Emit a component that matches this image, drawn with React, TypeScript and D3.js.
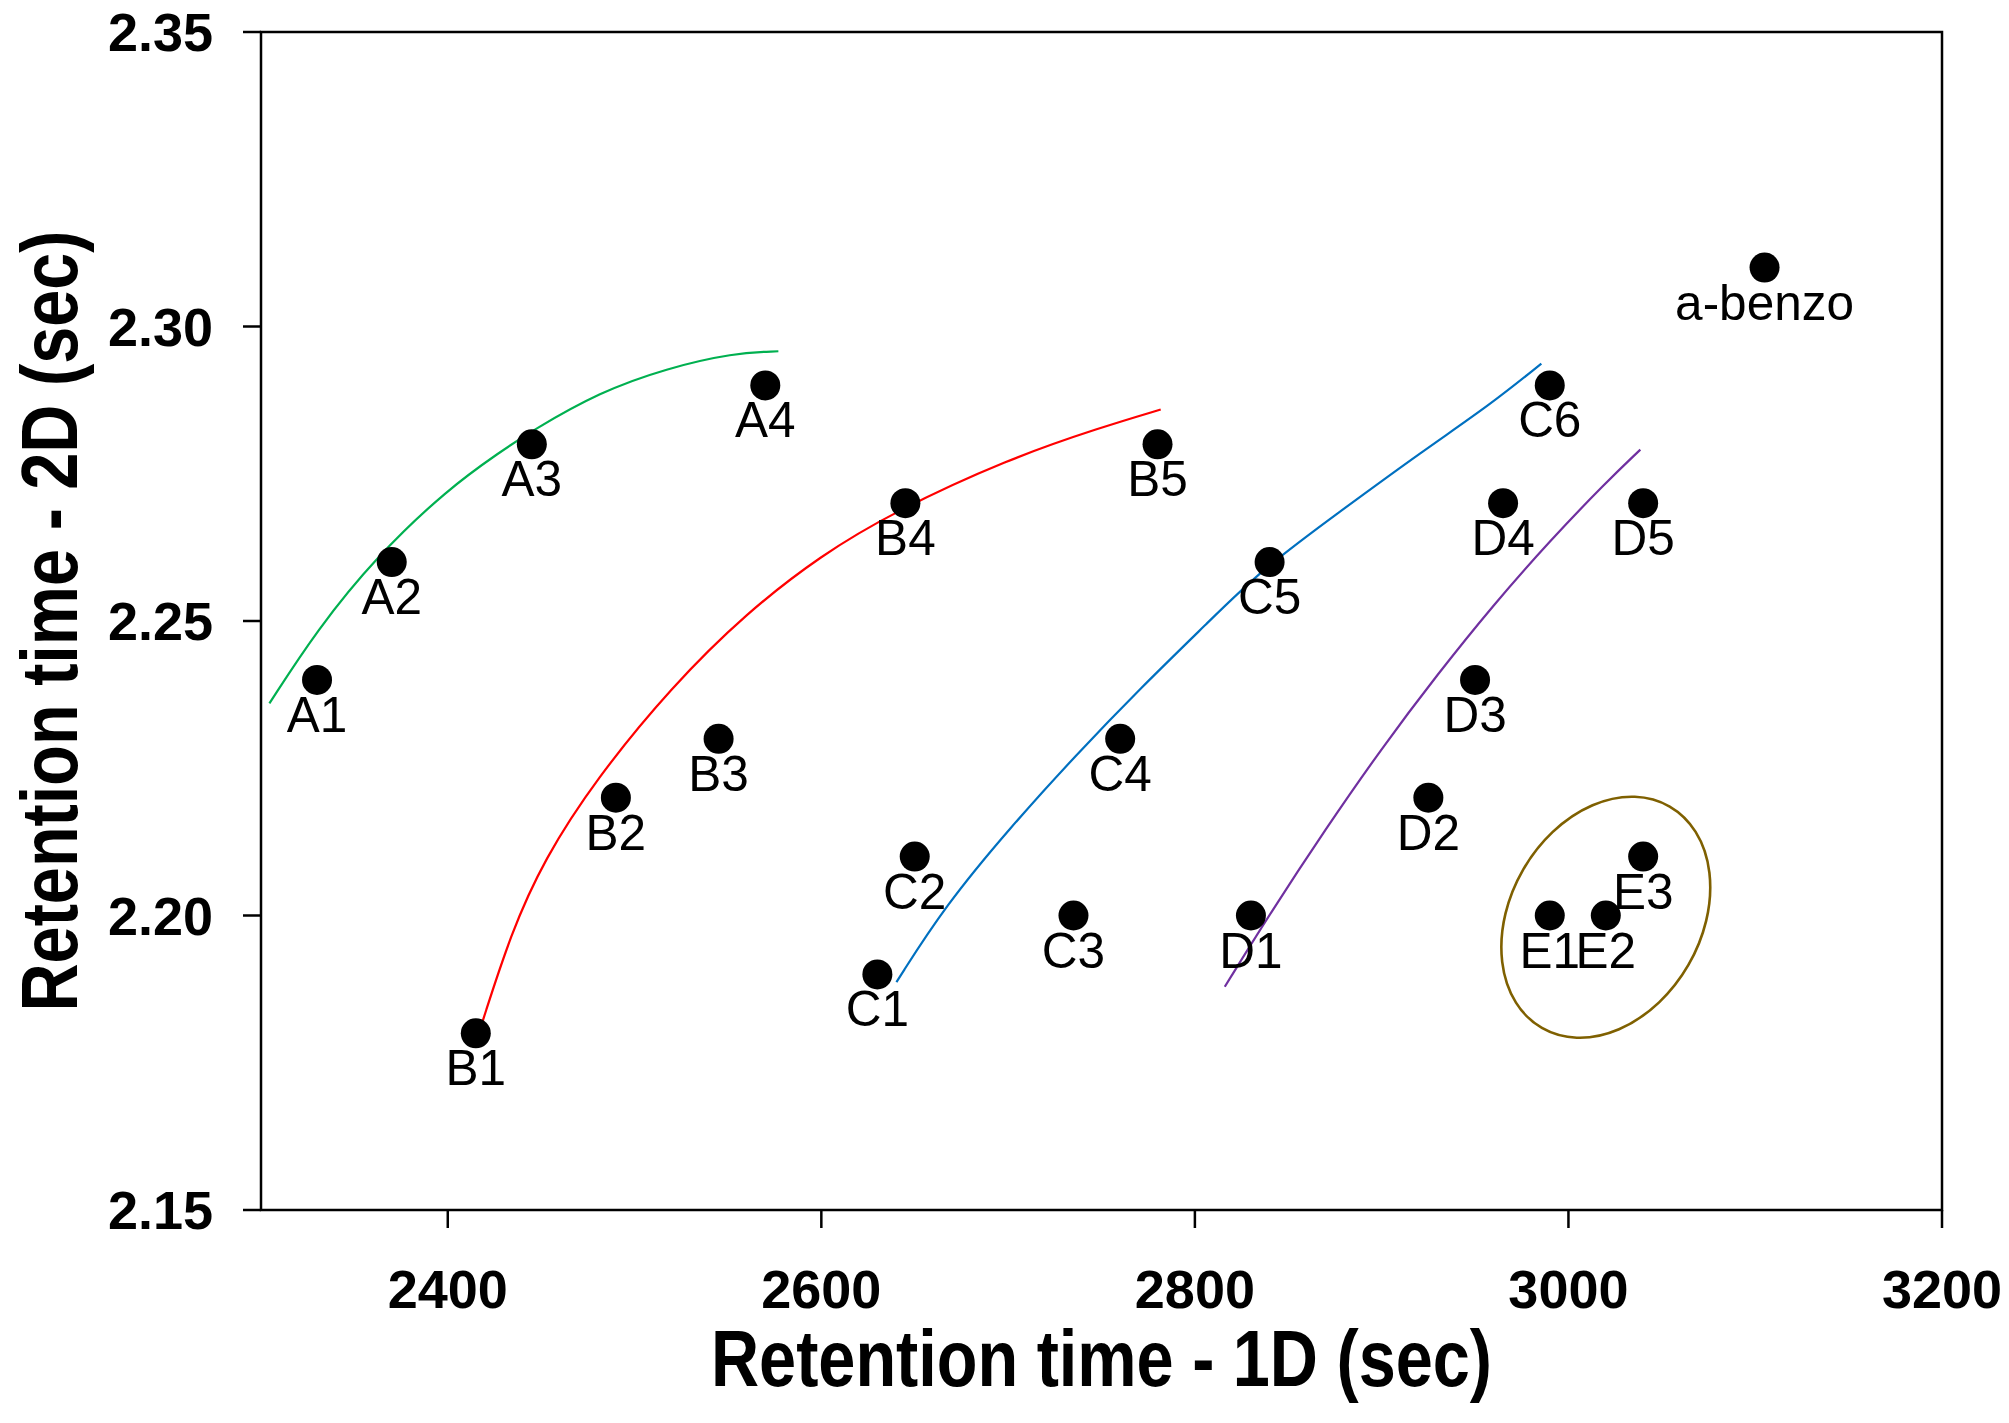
import React from 'react';
import * as d3 from 'd3';

// ---- data ----
const compoundNames = ['A1','A2','A3','A4','B1','B2','B3','B4','B5','C1','C2','C3','C4','C5','C6','D1','D2','D3','D4','D5','E1','E2','E3','a-benzo'];
const rt1D = [2330,2370,2445,2570,2415,2490,2545,2645,2780,2630,2650,2735,2760,2840,2990,2830,2925,2950,2965,3040,2990,3020,3040,3105];
const rt2D = [2.24,2.26,2.28,2.29,2.18,2.22,2.23,2.27,2.28,2.19,2.21,2.20,2.23,2.26,2.29,2.20,2.22,2.24,2.27,2.27,2.20,2.20,2.21,2.31];

const xTicks = [2400, 2600, 2800, 3000, 3200];
const yTicks = [2.15, 2.20, 2.25, 2.30, 2.35];
const xDomain = [2300, 3200];
const yDomain = [2.15, 2.35];

// trend curves (1D, 2D)
const greenCurveX = [2304.5, 2330, 2362, 2400, 2428, 2445.6, 2481.5, 2517.2, 2552.9, 2577];
const greenCurveY = [2.236, 2.2485, 2.261, 2.2724, 2.2787, 2.2824, 2.2889, 2.2929, 2.2955, 2.2958];
const redCurveX = [2418, 2433.8, 2451.5, 2479.4, 2520, 2560, 2600, 2638.7, 2700, 2750, 2781.7];
const redCurveY = [2.1814, 2.197, 2.2095, 2.2232, 2.2389, 2.2514, 2.2612, 2.2685, 2.2775, 2.2829, 2.2859];
const blueCurveX = [2640.2, 2666.4, 2701.3, 2736.2, 2771.2, 2806.2, 2836.4, 2876, 2922.6, 2957.6, 2985.5];
const blueCurveY = [2.1887, 2.2017, 2.215, 2.2272, 2.2387, 2.2495, 2.2589, 2.2682, 2.279, 2.2866, 2.2937];
const purpleCurveX = [2816, 2840, 2870, 2900, 2930, 2960, 2990, 3020, 3038.5];
const purpleCurveY = [2.1879, 2.2002, 2.2147, 2.2284, 2.241, 2.2528, 2.2636, 2.2735, 2.2791];

// ellipse around group E (center in data units)
const groupECenter = [3020, 2.1997];

const FONT = '"Liberation Sans", Arial, Helvetica, sans-serif';

export default function App() {
  const W = 2009, H = 1423;
  const left = 261, right = 1942, top = 32, bottom = 1210;
  const x = d3.scaleLinear().domain(xDomain).range([left, right]);
  const y = d3.scaleLinear().domain(yDomain).range([bottom, top]);

  const line = d3.line<[number, number]>()
    .x(d => x(d[0]))
    .y(d => y(d[1]))
    .curve(d3.curveBasis);

  const curves = [
    { xs: greenCurveX, ys: greenCurveY, color: '#00B050' },
    { xs: redCurveX, ys: redCurveY, color: '#FF0000' },
    { xs: blueCurveX, ys: blueCurveY, color: '#0070C0' },
    { xs: purpleCurveX, ys: purpleCurveY, color: '#7030A0' },
  ];

  const tickLen = 18;
  const ex = x(groupECenter[0]);
  const ey = y(groupECenter[1]);

  return (
    <svg width={W} height={H} style={{ position: 'absolute', left: 0, top: 0, background: '#fff' }}
      fontFamily={FONT}>
      <rect x={0} y={0} width={W} height={H} fill="#fff" />
      {/* curves */}
      {curves.map((c, i) => (
        <path key={i} d={line(c.xs.map((v, j) => [v, c.ys[j]] as [number, number])) || ''}
          fill="none" stroke={c.color} strokeWidth={2.2} />
      ))}
      {/* ellipse */}
      <ellipse cx={ex} cy={ey} rx={127.8} ry={95.4} transform={`rotate(-60 ${ex} ${ey})`}
        fill="none" stroke="#7F6000" strokeWidth={2.6} />
      {/* frame */}
      <rect x={left} y={top} width={right - left} height={bottom - top} fill="none" stroke="#000" strokeWidth={2.5} />
      {/* y ticks */}
      {yTicks.map(t => (
        <g key={'y' + t}>
          <line x1={left - tickLen} x2={left} y1={y(t)} y2={y(t)} stroke="#000" strokeWidth={2.5} />
          <text x={left - tickLen - 30} y={y(t)} dy="0.36em" textAnchor="end" fontSize={54} fontWeight="bold">
            {t.toFixed(2)}
          </text>
        </g>
      ))}
      {/* x ticks */}
      {xTicks.map(t => (
        <g key={'x' + t}>
          <line x1={x(t)} x2={x(t)} y1={bottom} y2={bottom + tickLen} stroke="#000" strokeWidth={2.5} />
          <text x={x(t)} y={bottom + 98} textAnchor="middle" fontSize={54} fontWeight="bold">{t}</text>
        </g>
      ))}
      {/* points */}
      {rt1D.map((v, i) => (
        <g key={compoundNames[i]}>
          <circle cx={x(v)} cy={y(rt2D[i])} r={15} fill="#000" />
          <text x={x(v)} y={y(rt2D[i]) + 52} textAnchor="middle" fontSize={49.5}>{compoundNames[i]}</text>
        </g>
      ))}
      {/* axis titles */}
      <text x={(left + right) / 2} y={1386} textAnchor="middle" fontSize={80} fontWeight="bold"
        textLength={781} lengthAdjust="spacingAndGlyphs">Retention time - 1D (sec)</text>
      <text transform={`translate(77, ${(top + bottom) / 2}) rotate(-90)`} textAnchor="middle" fontSize={80}
        fontWeight="bold" textLength={781} lengthAdjust="spacingAndGlyphs">Retention time - 2D (sec)</text>
    </svg>
  );
}
